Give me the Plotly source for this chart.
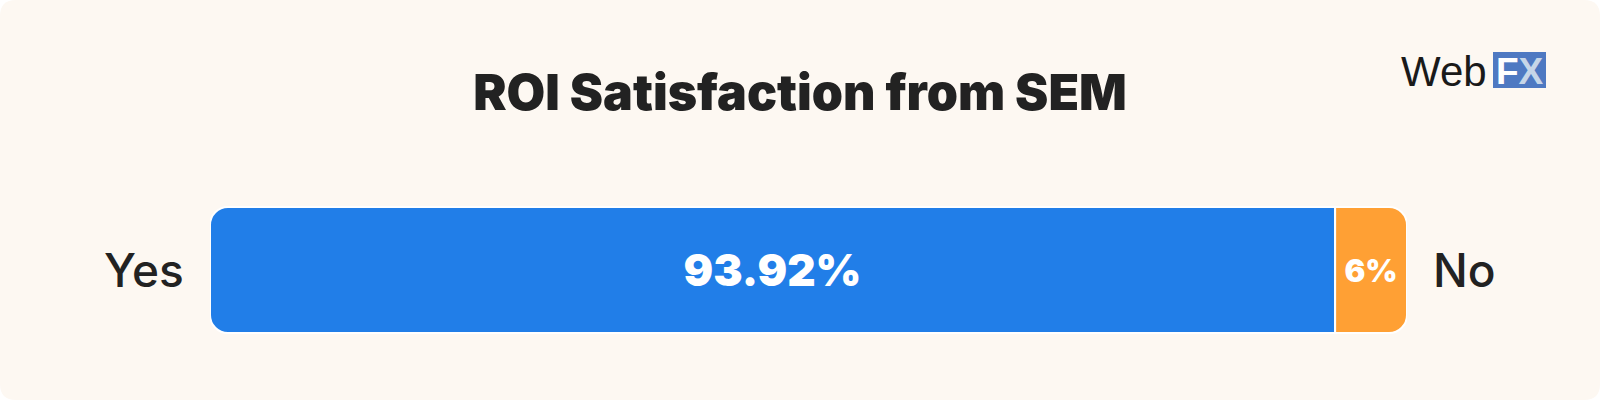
import plotly.graph_objects as go

# ---- data ----
categories = ["Yes", "No"]
values = [93.92, 6]
value_labels = ["93.92%", "6%"]
title_text = "ROI Satisfaction from SEM"

W, H = 1600, 400
BLUE = "#217EE8"
ORANGE = "#FFA034"
DARK = "#222222"
PANEL = "#FDF8F2"

fig = go.Figure()
# "Yes" grows leftwards from the split point (relative mode), "No" grows rightwards,
# so each segment is rounded only on its outer end.
fig.add_trace(go.Bar(
    y=[0], x=[-values[0]], orientation="h", width=1,
    marker=dict(color=BLUE, cornerradius=18, line=dict(color="white", width=2)),
    text=[value_labels[0]], textposition="inside", insidetextanchor="middle",
    textangle=0, constraintext="none",
    textfont=dict(family="Inter", size=44, color="white", weight=900),
    hoverinfo="skip", showlegend=False,
))
fig.add_trace(go.Bar(
    y=[0], x=[values[1]], orientation="h", width=1,
    marker=dict(color=ORANGE, cornerradius=18, line=dict(color="white", width=2)),
    text=[value_labels[1]], textposition="inside", insidetextanchor="middle",
    textangle=0, constraintext="none",
    textfont=dict(family="Inter", size=31, color="white", weight=900),
    hoverinfo="skip", showlegend=False,
))

# category labels
fig.add_annotation(x=-values[0], y=0, xref="x", yref="y", text=categories[0], showarrow=False,
                   xanchor="right", yanchor="middle", xshift=-24,
                   font=dict(family="Inter", size=46, color=DARK, weight=500))
fig.add_annotation(x=values[1], y=0, xref="x", yref="y", text=categories[1], showarrow=False,
                   xanchor="left", yanchor="middle", xshift=24,
                   font=dict(family="Inter", size=46, color=DARK, weight=500))

# background panel with rounded corners
rx, ry = 16 / W, 16 / H
panel_path = (f"M {rx},0 L {1-rx},0 Q 1,0 1,{ry} L 1,{1-ry} Q 1,1 {1-rx},1 "
              f"L {rx},1 Q 0,1 0,{1-ry} L 0,{ry} Q 0,0 {rx},0 Z")
fig.add_shape(type="path", path=panel_path, xref="paper", yref="paper",
              fillcolor=PANEL, line=dict(width=0), layer="below")

# logo
fig.add_shape(type="rect", xref="paper", yref="paper",
              x0=1493 / W, x1=1546 / W, y0=1 - 88 / H, y1=1 - 52 / H,
              fillcolor="#4E79C2", line=dict(width=0), layer="above")
fig.add_annotation(x=1489 / W, y=1 - 71 / H, xref="paper", yref="paper",
                   text="Web", showarrow=False, xanchor="right", yanchor="middle",
                   font=dict(family="Liberation Sans", size=42, color="#1a1a1a"))
fig.add_annotation(x=1519.5 / W, y=1 - 71 / H, xref="paper", yref="paper",
                   text="<span style='color:#ffffff'>F</span><span style='color:#C6D6E8'>X</span>",
                   showarrow=False, xanchor="center", yanchor="middle",
                   font=dict(family="Liberation Sans", size=37, color="white", weight="bold"))

bar_top, bar_bot = 207, 333
px_per_unit = bar_bot - bar_top
center = (bar_top + bar_bot) / 2
y_low = -(H - center) / px_per_unit
y_high = center / px_per_unit

fig.update_layout(
    width=W, height=H,
    margin=dict(l=0, r=0, t=0, b=0),
    paper_bgcolor="white", plot_bgcolor="rgba(0,0,0,0)",
    barmode="relative",
    title=dict(text=title_text, x=0.5, xanchor="center", xref="paper",
               y=1 - 92 / H, yanchor="middle", yref="container",
               font=dict(family="Inter", size=50, color=DARK, weight=900)),
    xaxis=dict(domain=[210 / W, 1407 / W], range=[-values[0], values[1]],
               visible=False, fixedrange=True),
    yaxis=dict(domain=[0, 1], range=[y_low, y_high], visible=False, fixedrange=True),
)

fig.write_html("out.html", config={"displayModeBar": False},
               post_script="document.body.style.margin='0';")
